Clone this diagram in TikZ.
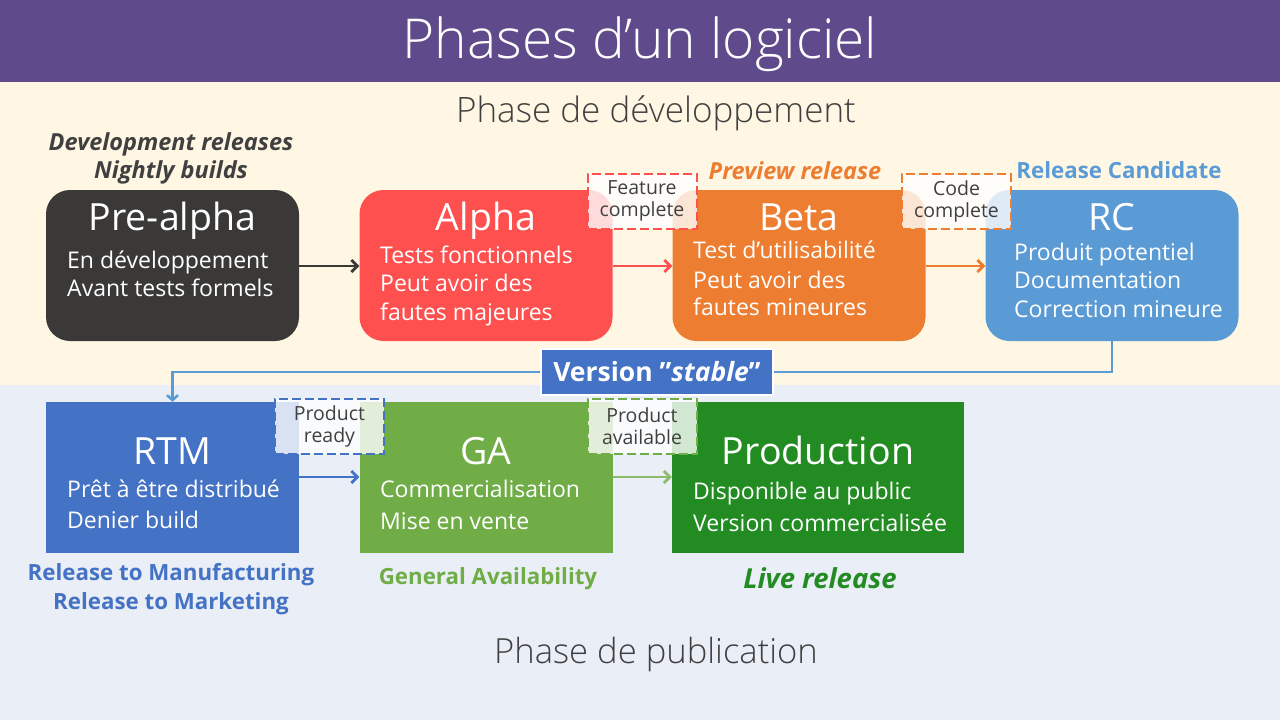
\documentclass[tikz,border=0pt]{standalone}
\usepackage{fontspec}
\setmainfont{Open Sans}
\newfontfamily\lightfont{Open Sans Light}
\usetikzlibrary{arrows.meta}

\definecolor{cbar}{HTML}{5F4B8B}
\definecolor{ccream}{HTML}{FFF7E3}
\definecolor{cpale}{HTML}{EAEEF6}
\definecolor{cdark}{HTML}{3A3938}
\definecolor{cred}{HTML}{FF5050}
\definecolor{corange}{HTML}{ED7D31}
\definecolor{csky}{HTML}{5B9BD5}
\definecolor{cblue}{HTML}{4472C4}
\definecolor{cgreen}{HTML}{70AD47}
\definecolor{cforest}{HTML}{228B22}
\definecolor{cgray}{HTML}{404040}

\tikzset{
  phase/.style={minimum width=253pt, minimum height=151pt, inner sep=0pt, draw=none},
  rphase/.style={phase, rounded corners=24pt},
  ttl/.style={text=white, font=\fontsize{37.5}{44}\selectfont, inner sep=0pt,
    text height=28pt, text depth=4pt},
  body/.style={text=white, font=\fontsize{23}{28}\selectfont, inner sep=0pt,
    anchor=west, text height=17pt, text depth=2pt},
  tag/.style={font=\bfseries\fontsize{22.3}{26}\selectfont, inner sep=0pt,
    text height=16pt, text depth=0pt},
  itag/.style={tag, font=\bfseries\itshape\fontsize{23.5}{28}\selectfont},
  milestone/.style={dashed, dash pattern=on 9pt off 4pt, line width=2pt,
    fill=white, fill opacity=0.8, text opacity=1, text=cgray,
    minimum width=109pt, minimum height=55pt, inner sep=0pt, align=center,
    font=\fontsize{19.5}{23}\selectfont},
  flow/.style={line width=2.7pt, -{Straight Barb[length=6pt,width=12pt]}}
}

\begin{document}
\begin{tikzpicture}[x=1pt, y=-1pt]
  % backgrounds
  \useasboundingbox (0,0) rectangle (1280,720);
  \fill[cpale] (0,385) rectangle (1280,720);
  \fill[ccream] (0,82) rectangle (1280,385);
  \fill[cbar] (0,0) rectangle (1280,82);

  \node[text=white, font=\lightfont\fontsize{55}{62}\selectfont, inner sep=0pt] (title) at (640,44) {Phases d’un logiciel};
  \node[text=cgray, font=\lightfont\fontsize{35}{40}\selectfont, inner sep=0pt] (devphase) at (656,113) {Phase de développement};
  \node[text=cgray, font=\lightfont\fontsize{34.6}{40}\selectfont, inner sep=0pt] (pubphase) at (656,655) {Phase de publication};

  % development boxes
  \node[rphase, fill=cdark]   (pre)   at (172.5,265.5) {};
  \node[rphase, fill=cred]    (alpha) at (486,265.5) {};
  \node[rphase, fill=corange] (beta)  at (799,265.5) {};
  \node[rphase, fill=csky]    (rc)    at (1112,265.5) {};

  % publication boxes
  \node[phase, fill=cblue]   (rtm)  at (172.5,477.5) {};
  \node[phase, fill=cgreen]  (ga)   at (486,477.5) {};
  \node[phase, fill=cforest, minimum width=292pt] (prod) at (818,477.5) {};

  % box contents
  \node[ttl] (preT) at (172.5,218) {Pre-alpha};
  \node[body] (pre1) at (67,261) {En développement};
  \node[body] (pre2) at (67,289) {Avant tests formels};

  \node[ttl] (alphaT) at (486,218) {Alpha};
  \node[body] (alpha1) at (380,256) {Tests fonctionnels};
  \node[body] (alpha2) at (380,284) {Peut avoir des};
  \node[body] (alpha3) at (380,313) {fautes majeures};

  \node[ttl] (betaT) at (799,218) {Beta};
  \node[body] (beta1) at (693,251) {Test d’utilisabilité};
  \node[body] (beta2) at (693,281) {Peut avoir des};
  \node[body] (beta3) at (693,308) {fautes mineures};

  \node[ttl] (rcT) at (1112,218) {RC};
  \node[body] (rc1) at (1014,253) {Produit potentiel};
  \node[body] (rc2) at (1014,281) {Documentation};
  \node[body] (rc3) at (1014,310) {Correction mineure};

  \node[ttl] (rtmT) at (172.5,452) {RTM};
  \node[body] (rtm1) at (67,490) {Prêt à être distribué};
  \node[body] (rtm2) at (67,521) {Denier build};

  \node[ttl] (gaT) at (486,452) {GA};
  \node[body] (ga1) at (380,490) {Commercialisation};
  \node[body] (ga2) at (380,522) {Mise en vente};

  \node[ttl] (prodT) at (818,452) {Production};
  \node[body] (prod1) at (693,492) {Disponible au public};
  \node[body] (prod2) at (693,524) {Version commercialisée};

  % flow arrows
  \draw[flow, cdark]  (pre.east |- 0,266)   -- (alpha.west |- 0,266);
  \draw[flow, cred]   (alpha.east |- 0,266) -- (beta.west |- 0,266);
  \draw[flow, corange](beta.east |- 0,266)  -- (rc.west |- 0,266);
  \draw[flow, cblue]  (rtm.east |- 0,477)   -- (ga.west |- 0,477);
  \draw[flow, cgreen!80!white] (ga.east |- 0,477) -- (prod.west |- 0,477);

  % stable version link
  \coordinate (bend) at (1112,372);
  \draw[csky, line width=2.5pt, -{Straight Barb[length=5pt,width=11pt]}]
    (rc.south) -- (bend) -| (rtm.north);
  \node[fill=cblue, draw=white, line width=2pt, text=white,
    font=\bfseries\fontsize{26.5}{30}\selectfont, minimum width=232pt,
    minimum height=46pt, inner sep=0pt] (stable) at (657,372)
    {Version "\textit{stable}"};

  % milestones
  \node[milestone, draw=cred]    (feat)  at (642,201) {Feature\\[-1pt]complete};
  \node[milestone, draw=corange] (code)  at (956.5,201) {Code\\[-1pt]complete};
  \node[milestone, draw=cblue]   (ready) at (329.5,426) {Product\\[-1pt]ready};
  \node[milestone, draw=cgreen]  (avail) at (642,426) {Product\\[-1pt]available};

  % release names
  \node[itag, text=cgray] (dev1) at (171,142) {Development releases};
  \node[itag, text=cgray] (dev2) at (171,170) {Nightly builds};
  \node[itag, text=corange] (prev) at (795,171) {Preview release};
  \node[tag, text=csky] (cand) at (1119,170) {Release Candidate};
  \node[tag, text=cblue] (man) at (171,572) {Release to Manufacturing};
  \node[tag, text=cblue] (mkt) at (171,601) {Release to Marketing};
  \node[tag, text=cgreen] (gen) at (488,576) {General Availability};
  \node[itag, text=cforest, font=\bfseries\itshape\fontsize{27.5}{32}\selectfont] (live) at (820,580) {Live release};
\end{tikzpicture}
\end{document}
